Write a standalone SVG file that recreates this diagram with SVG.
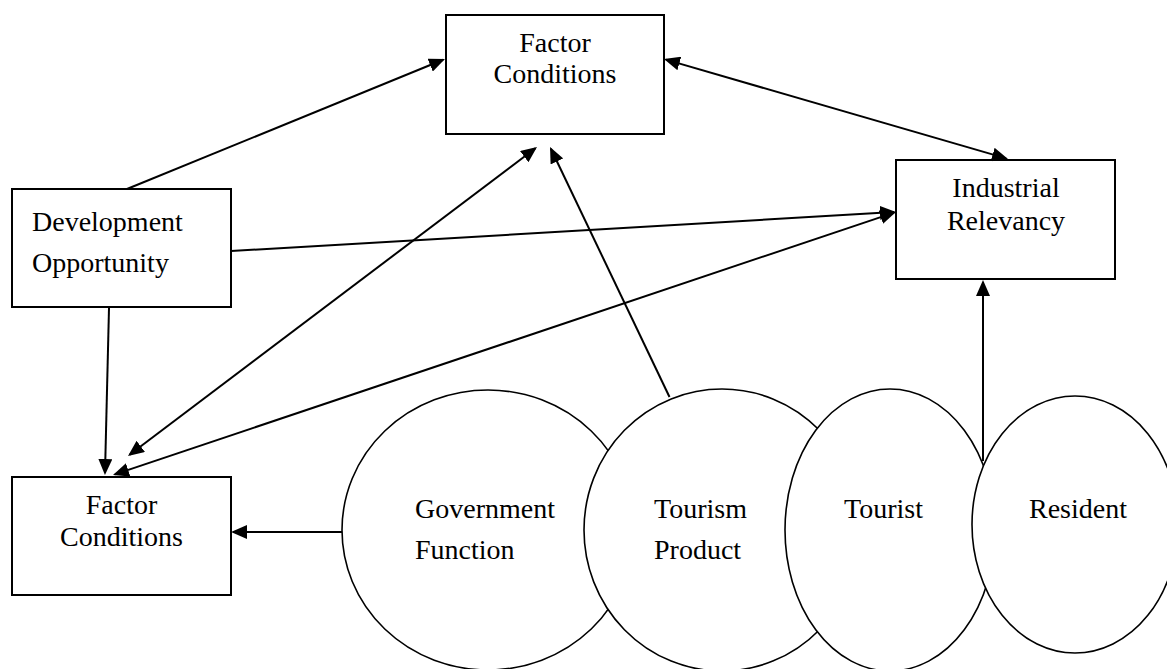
<svg xmlns="http://www.w3.org/2000/svg" width="1167" height="669" viewBox="0 0 1167 669">
  <style>
    .box { fill: #ffffff; stroke: #000000; stroke-width: 2; }
    .oval { fill: #ffffff; stroke: #000000; stroke-width: 1.6; }
    .lbl { font-family: "Liberation Serif", "Times New Roman", serif; font-size: 28px; fill: #000000; }
    .mid { text-anchor: middle; }
    .edge { fill: none; stroke: #000000; stroke-width: 2; }
    .one { marker-end: url(#head); }
    .two { marker-start: url(#head); marker-end: url(#head); }
  </style>
  <defs>
    <marker id="head" viewBox="0 0 16 14" refX="14" refY="7" markerWidth="16" markerHeight="14" markerUnits="userSpaceOnUse" orient="auto-start-reverse">
      <path d="M0,0 L16,7 L0,14 z" fill="#000000"/>
    </marker>
  </defs>

  <rect width="1167" height="669" fill="#ffffff"/>

  <!-- rectangular factors -->
  <g id="factor-top">
    <rect class="box" x="446" y="15" width="218" height="119"/>
    <text class="lbl mid" x="555" y="52">Factor</text>
    <text class="lbl mid" x="555" y="83">Conditions</text>
  </g>
  <g id="industrial-relevancy">
    <rect class="box" x="896" y="160" width="219" height="119"/>
    <text class="lbl mid" x="1006" y="197">Industrial</text>
    <text class="lbl mid" x="1006" y="230">Relevancy</text>
  </g>
  <g id="development-opportunity">
    <rect class="box" x="12" y="189" width="219" height="118"/>
    <text class="lbl" x="32" y="231">Development</text>
    <text class="lbl" x="32" y="272">Opportunity</text>
  </g>
  <g id="factor-bottom">
    <rect class="box" x="12" y="477" width="219" height="118"/>
    <text class="lbl mid" x="121.5" y="514">Factor</text>
    <text class="lbl mid" x="121.5" y="546">Conditions</text>
  </g>

  <!-- overlapping actors, later ones painted over earlier ones -->
  <g id="government-function">
    <ellipse class="oval" cx="488" cy="530" rx="146" ry="140"/>
    <text class="lbl" x="415" y="518">Government</text>
    <text class="lbl" x="415" y="559">Function</text>
  </g>
  <g id="tourism-product">
    <ellipse class="oval" cx="722" cy="530" rx="138" ry="141"/>
    <text class="lbl" x="654" y="518">Tourism</text>
    <text class="lbl" x="654" y="559">Product</text>
  </g>
  <g id="tourist">
    <ellipse class="oval" cx="890" cy="530" rx="105" ry="141"/>
    <text class="lbl" x="844" y="518">Tourist</text>
  </g>
  <g id="resident">
    <ellipse class="oval" cx="1075" cy="524.5" rx="103" ry="128.5"/>
    <text class="lbl" x="1029" y="518">Resident</text>
  </g>

  <!-- connectors -->
  <g id="connectors">
    <line class="edge one" x1="127" y1="189" x2="443.1" y2="59.8"/>
    <line class="edge two" x1="665.9" y1="59.6" x2="1006.1" y2="158.4"/>
    <line class="edge one" x1="109" y1="308" x2="105" y2="473"/>
    <line class="edge two" x1="535.4" y1="148.2" x2="129.6" y2="454.8"/>
    <line class="edge two" x1="114.9" y1="474.4" x2="894.1" y2="212.6"/>
    <line class="edge one" x1="231" y1="251" x2="894" y2="212.1"/>
    <line class="edge one" x1="669.5" y1="397" x2="550.9" y2="148.8"/>
    <line class="edge one" x1="342" y1="532" x2="233" y2="532"/>
    <line class="edge one" x1="983" y1="461" x2="983" y2="282"/>
  </g>
</svg>
